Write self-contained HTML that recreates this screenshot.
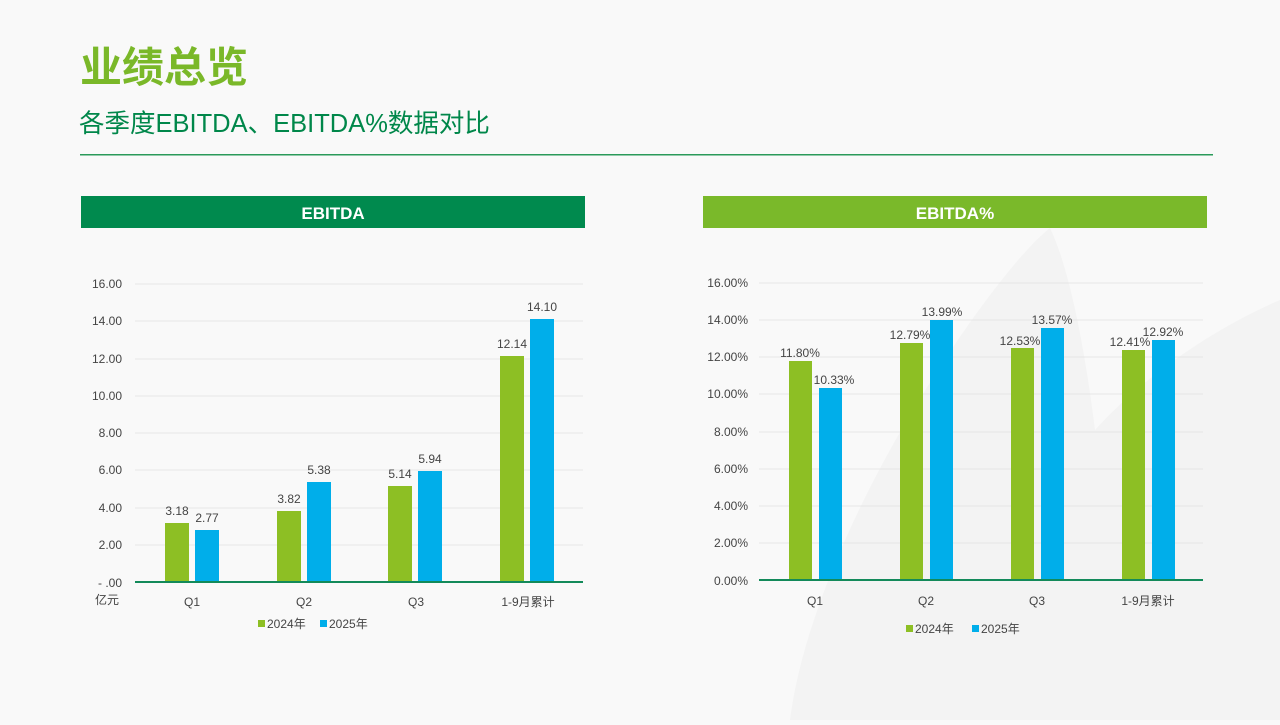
<!DOCTYPE html>
<html><head><meta charset="utf-8"><style>
body{margin:0;width:1280px;height:720px;overflow:hidden;background:#f9f9f9;font-family:"Liberation Sans","Noto Sans CJK SC",sans-serif;}
svg text{font-family:"Liberation Sans","Noto Sans CJK SC",sans-serif;}
</style></head><body>
<svg width="1280" height="720" viewBox="0 0 1280 720">
<rect width="1280" height="720" fill="#f9f9f9"/>
<path d="M1050 228 C1010 260 940 360 890 450 C840 540 800 640 790 720 L1280 720 L1280 300 C1210 330 1140 380 1095 430 C1085 350 1070 270 1050 228Z" fill="#f3f3f3"/>
<text x="80" y="82" font-size="42" font-weight="bold" fill="#7ab829">业绩总览</text>
<text x="79" y="132" font-size="25.5" fill="#00874a">各季度EBITDA、EBITDA%数据对比</text>
<rect x="80" y="154" width="1133" height="1.5" fill="#2a9a5a"/>
<rect x="81" y="196" width="504" height="32" fill="#008a4e"/>
<text x="333" y="219" font-size="17" font-weight="bold" fill="#fff" text-anchor="middle">EBITDA</text>
<rect x="703" y="196" width="504" height="32" fill="#7ab92a"/>
<text x="955" y="219" font-size="17" font-weight="bold" fill="#fff" text-anchor="middle">EBITDA%</text>
<g stroke="#e6e6e6" stroke-width="1">
<line x1="135" x2="583" y1="284" y2="284"/><line x1="135" x2="583" y1="321" y2="321"/><line x1="135" x2="583" y1="359" y2="359"/><line x1="135" x2="583" y1="396" y2="396"/><line x1="135" x2="583" y1="433" y2="433"/><line x1="135" x2="583" y1="470" y2="470"/><line x1="135" x2="583" y1="508" y2="508"/><line x1="135" x2="583" y1="545" y2="545"/>
<line x1="759" x2="1203" y1="283" y2="283"/><line x1="759" x2="1203" y1="320" y2="320"/><line x1="759" x2="1203" y1="357" y2="357"/><line x1="759" x2="1203" y1="394" y2="394"/><line x1="759" x2="1203" y1="432" y2="432"/><line x1="759" x2="1203" y1="469" y2="469"/><line x1="759" x2="1203" y1="506" y2="506"/><line x1="759" x2="1203" y1="543" y2="543"/>
</g>
<g font-size="12" fill="#444" text-anchor="end">
<text x="122" y="288">16.00</text><text x="122" y="325">14.00</text><text x="122" y="363">12.00</text><text x="122" y="400">10.00</text><text x="122" y="437">8.00</text><text x="122" y="474">6.00</text><text x="122" y="512">4.00</text><text x="122" y="549">2.00</text><text x="122" y="587">-  .00</text>
<text x="119" y="604">亿元</text>
<text x="748" y="287">16.00%</text><text x="748" y="324">14.00%</text><text x="748" y="361">12.00%</text><text x="748" y="398">10.00%</text><text x="748" y="436">8.00%</text><text x="748" y="473">6.00%</text><text x="748" y="510">4.00%</text><text x="748" y="547">2.00%</text><text x="748" y="585">0.00%</text>
</g>
<g fill="#8dbf24">
<rect x="165" y="523" width="24" height="59"/><rect x="277" y="511" width="24" height="71"/><rect x="388" y="486" width="24" height="96"/><rect x="500" y="356" width="24" height="226"/>
<rect x="789" y="361" width="23" height="219"/><rect x="900" y="343" width="23" height="237"/><rect x="1011" y="348" width="23" height="232"/><rect x="1122" y="350" width="23" height="230"/>
</g>
<g fill="#00aeea">
<rect x="195" y="530" width="24" height="52"/><rect x="307" y="482" width="24" height="100"/><rect x="418" y="471" width="24" height="111"/><rect x="530" y="319" width="24" height="263"/>
<rect x="819" y="388" width="23" height="192"/><rect x="930" y="320" width="23" height="260"/><rect x="1041" y="328" width="23" height="252"/><rect x="1152" y="340" width="23" height="240"/>
</g>
<rect x="135" y="581" width="448" height="2" fill="#138a5a"/>
<rect x="759" y="579" width="444" height="2" fill="#138a5a"/>
<g font-size="12" fill="#444" text-anchor="middle">
<text x="177" y="515">3.18</text><text x="207" y="522">2.77</text><text x="289" y="503">3.82</text><text x="319" y="474">5.38</text><text x="400" y="478">5.14</text><text x="430" y="463">5.94</text><text x="512" y="348">12.14</text><text x="542" y="311">14.10</text>
<text x="800" y="357">11.80%</text><text x="834" y="384">10.33%</text><text x="910" y="339">12.79%</text><text x="942" y="316">13.99%</text><text x="1020" y="345">12.53%</text><text x="1052" y="324">13.57%</text><text x="1130" y="346">12.41%</text><text x="1163" y="336">12.92%</text>
<text x="192" y="606">Q1</text><text x="304" y="606">Q2</text><text x="416" y="606">Q3</text><text x="528" y="606">1-9月累计</text>
<text x="815" y="605">Q1</text><text x="926" y="605">Q2</text><text x="1037" y="605">Q3</text><text x="1148" y="605">1-9月累计</text>
</g>
<g font-size="12" fill="#444">
<rect x="258" y="620" width="7" height="7" fill="#8dbf24"/><text x="267" y="628">2024年</text>
<rect x="320" y="620" width="7" height="7" fill="#00aeea"/><text x="329" y="628">2025年</text>
<rect x="906" y="625" width="7" height="7" fill="#8dbf24"/><text x="915" y="633">2024年</text>
<rect x="972" y="625" width="7" height="7" fill="#00aeea"/><text x="981" y="633">2025年</text>
</g>
</svg>
</body></html>
